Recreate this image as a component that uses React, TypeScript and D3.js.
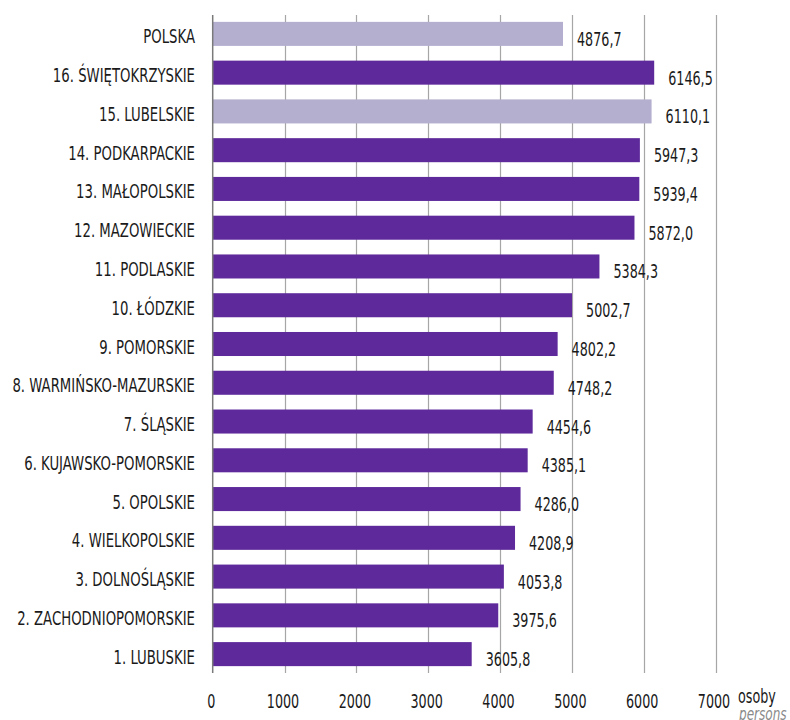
import React from "react";
import * as d3 from "d3";

const categories = [
  "POLSKA",
  "16. ŚWIĘTOKRZYSKIE",
  "15. LUBELSKIE",
  "14. PODKARPACKIE",
  "13. MAŁOPOLSKIE",
  "12. MAZOWIECKIE",
  "11. PODLASKIE",
  "10. ŁÓDZKIE",
  "9. POMORSKIE",
  "8. WARMIŃSKO-MAZURSKIE",
  "7. ŚLĄSKIE",
  "6. KUJAWSKO-POMORSKIE",
  "5. OPOLSKIE",
  "4. WIELKOPOLSKIE",
  "3. DOLNOŚLĄSKIE",
  "2. ZACHODNIOPOMORSKIE",
  "1. LUBUSKIE",
];
const values = [
  4876.7, 6146.5, 6110.1, 5947.3, 5939.4, 5872.0, 5384.3, 5002.7, 4802.2,
  4748.2, 4454.6, 4385.1, 4286.0, 4208.9, 4053.8, 3975.6, 3605.8,
];
const highlighted = ["POLSKA", "15. LUBELSKIE"];
const ticks = [0, 1000, 2000, 3000, 4000, 5000, 6000, 7000];
const unitLabel = "osoby";
const unitLabelEn = "persons";

const DARK = "#5e2a9b";
const LIGHT = "#b4aecf";
const FONT = "'DejaVu Sans Condensed', 'DejaVu Sans', sans-serif";
const FS = 19;
const SX_LABEL = 0.776;
const SX_NUM = 0.745;

function SText(props: {
  x: number;
  y: number;
  sx: number;
  anchor?: string;
  size?: number;
  fill?: string;
  italic?: boolean;
  children: React.ReactNode;
}) {
  const { x, y, sx, anchor = "start", size = FS, fill = "#1a1a1a", italic } =
    props;
  return (
    <g transform={`scale(${sx},1)`}>
      <text
        x={x / sx}
        y={y}
        textAnchor={anchor}
        fontFamily={FONT}
        fontSize={size}
        fontStyle={italic ? "italic" : "normal"}
        fill={fill}
      >
        {props.children}
      </text>
    </g>
  );
}

export default function App() {
  const x = d3.scaleLinear().domain([0, 7000]).range([212.7, 715.5]);
  const y = d3
    .scaleBand<string>()
    .domain(categories)
    .range([14.5, 673.5])
    .paddingInner(0.38)
    .paddingOuter(0.19);
  const fmt = (v: number) => v.toFixed(1).replace(".", ",");
  const bw = y.bandwidth();
  return (
    <svg
      width={790}
      height={720}
      style={{ position: "absolute", left: 0, top: 0, background: "#fff" }}
    >
      {ticks.slice(1).map((t) => (
        <line
          key={t}
          x1={Math.round(x(t)) + 0.5}
          x2={Math.round(x(t)) + 0.5}
          y1={15}
          y2={673}
          stroke="#a6a6a6"
          strokeWidth={1.2}
        />
      ))}
      {categories.map((c, i) => {
        const top = y(c) as number;
        return (
          <g key={c}>
            <rect
              x={x(0)}
              y={top}
              width={x(values[i]) - x(0)}
              height={bw}
              fill={highlighted.includes(c) ? LIGHT : DARK}
            />
            <SText x={195} y={top + bw - 2.5} sx={SX_LABEL} anchor="end">
              {c}
            </SText>
            <SText x={x(values[i]) + 14} y={top + bw} sx={SX_NUM}>
              {fmt(values[i])}
            </SText>
          </g>
        );
      })}
      <line
        x1={x(0)}
        x2={x(0)}
        y1={15}
        y2={673}
        stroke="#7a7a7a"
        strokeWidth={1.5}
      />
      {ticks.map((t) => (
        <SText key={t} x={x(t) - 1.5} y={708} sx={SX_NUM} anchor="middle">
          {t}
        </SText>
      ))}
      <SText x={738} y={703} sx={SX_NUM}>
        {unitLabel}
      </SText>
      <SText x={739} y={720} sx={SX_NUM} size={18} italic fill="#8a8a8a">
        {unitLabelEn}
      </SText>
    </svg>
  );
}
